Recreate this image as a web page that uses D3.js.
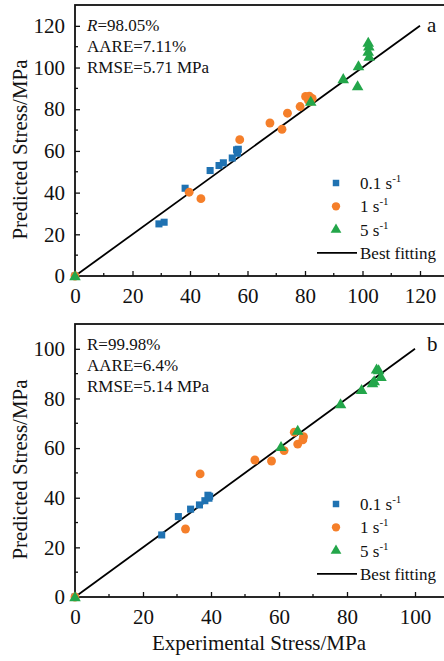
<!DOCTYPE html>
<html>
<head>
<meta charset="utf-8">
<script src="https://cdn.jsdelivr.net/npm/d3@7"></script>
<style>
  body { margin: 0; background: #fff; }
  text { font-family: "Liberation Serif", "Times New Roman", serif; fill: #111; }
</style>
</head>
<body>
<div id="chart"></div>
<script>
// panel a data: [experimental, predicted]
var aLow = [[29.2,25.0],[31.0,25.8],[38.3,42.1],[47.0,50.6],[50.1,53.0],[51.6,54.3],[54.7,56.6],[56.2,60.5],[56.5,58.9],[56.8,60.8],[0,0]];
var aMid = [[39.7,40.2],[43.8,37.1],[57.3,65.4],[67.8,73.4],[72.0,70.4],[73.9,78.1],[78.3,81.3],[80.2,86.1],[81.5,86.3],[82.5,85.2],[81.8,83.6],[81.2,84.2],[0,0]];
var aHigh = [[82.0,83.7],[93.3,94.6],[98.6,100.8],[98.3,91.2],[102.0,112.0],[102.2,110.2],[102.0,107.7],[102.3,105.3],[0,0]];

// panel b data
var bLow = [[25.5,25.0],[30.4,32.4],[34.0,35.4],[36.6,37.1],[38.2,38.8],[39.1,41.0],[39.6,40.6],[39.4,39.8],[0,0]];
var bMid = [[32.5,27.4],[36.8,49.6],[52.9,55.2],[57.8,54.8],[61.5,59.0],[64.5,66.4],[65.5,61.6],[67.2,64.6],[67.0,63.3],[0,0]];
var bHigh = [[60.6,60.6],[65.5,67.1],[78.1,77.8],[84.3,83.5],[88.0,87.1],[87.5,86.3],[88.7,91.8],[89.3,91.5],[90.0,88.8],[0,0]];

var seriesNames = ['0.1 s', '1 s', '5 s'];
var colors = ['#1f72b2', '#f57f2a', '#23a64a'];

var panels = [
  { label: 'a', max: 130, ticks: [0,20,40,60,80,100,120], fit: 120, top: 5, bottom: 276,
    stats: ['R', '=98.05%', 'AARE=7.11%', 'RMSE=5.71 MPa'], series: [aLow, aMid, aHigh], xTitle: false },
  { label: 'b', max: 110, ticks: [0,20,40,60,80,100], fit: 100, top: 324, bottom: 597,
    stats: ['R', '=99.98%', 'AARE=6.4%', 'RMSE=5.14 MPa'], series: [bLow, bMid, bHigh], xTitle: true }
];

var W = 444, H = 661, left = 75;

var svg = d3.select('#chart').append('svg')
  .attr('width', W)
  .attr('height', H);

panels.forEach(function(p, pi) {
  var x = d3.scaleLinear().domain([0, p.max]).range([left, left + (p.max / p.fit) * (pi === 0 ? 345 : 340)]);
  var y = d3.scaleLinear().domain([0, p.max]).range([p.bottom, p.top]);
  var g = svg.append('g');

  // minor ticks
  var minor = d3.range(10, p.max, 20);
  g.selectAll('.mx').data(minor).enter().append('line')
    .attr('x1', function(d) { return x(d); }).attr('x2', function(d) { return x(d); })
    .attr('y1', p.bottom).attr('y2', p.bottom - 3)
    .attr('stroke', '#111').attr('stroke-width', 1.3);
  g.selectAll('.my').data(minor).enter().append('line')
    .attr('y1', function(d) { return y(d); }).attr('y2', function(d) { return y(d); })
    .attr('x1', left).attr('x2', left + 3)
    .attr('stroke', '#111').attr('stroke-width', 1.3);

  // axes (ticks inside)
  var xAxis = g.append('g').attr('transform', 'translate(0,' + p.bottom + ')')
    .call(d3.axisBottom(x).tickValues(p.ticks).tickSize(-5).tickPadding(12));
  var yAxis = g.append('g').attr('transform', 'translate(' + left + ',0)')
    .call(d3.axisLeft(y).tickValues(p.ticks).tickSize(-5).tickPadding(10));
  [xAxis, yAxis].forEach(function(a) {
    a.select('.domain').remove();
    a.selectAll('line').attr('stroke', '#111').attr('stroke-width', 1.3);
    a.selectAll('text').attr('font-size', 21).attr('font-family', '"Liberation Serif", serif').attr('fill', '#111');
  });

  // frame
  g.append('rect')
    .attr('x', left).attr('y', p.top)
    .attr('width', x(p.max) - left).attr('height', p.bottom - p.top)
    .attr('fill', 'none').attr('stroke', '#111').attr('stroke-width', 1.8);

  // best fitting line
  g.append('line')
    .attr('x1', x(0)).attr('y1', y(0)).attr('x2', x(p.fit)).attr('y2', y(p.fit))
    .attr('stroke', '#000').attr('stroke-width', 1.8);

  // points
  var symbols = [d3.symbolSquare, d3.symbolCircle, d3.symbolTriangle];
  var sizes = [50, 62, 58];
  p.series.forEach(function(data, si) {
    g.selectAll('.s' + si).data(data).enter().append('path')
      .attr('d', d3.symbol().type(symbols[si]).size(sizes[si]))
      .attr('transform', function(d) { return 'translate(' + x(d[0]) + ',' + (y(d[1]) + (si === 2 ? 1 : 0)) + ')'; })
      .attr('fill', colors[si]);
  });

  // stats text
  var st = g.append('g').attr('font-size', 17);
  var t1 = st.append('text').attr('x', left + 12).attr('y', p.top + 26);
  if (pi === 0) {
    t1.append('tspan').attr('font-style', 'italic').text(p.stats[0]);
  } else {
    t1.append('tspan').text(p.stats[0]);
  }
  t1.append('tspan').text(p.stats[1]);
  st.append('text').attr('x', left + 12).attr('y', p.top + 47).text(p.stats[2]);
  st.append('text').attr('x', left + 12).attr('y', p.top + 68).text(p.stats[3]);

  // panel label
  g.append('text').attr('x', 427).attr('y', p.top + 27).attr('font-size', 21).text(p.label);

  // legend
  var ly0 = p.bottom - 93;
  var leg = g.append('g');
  seriesNames.forEach(function(name, si) {
    var ly = ly0 + si * 23.3;
    leg.append('path')
      .attr('d', d3.symbol().type(symbols[si]).size(sizes[si] - 8))
      .attr('transform', 'translate(336,' + ly + ')')
      .attr('fill', colors[si]);
    var t = leg.append('text').attr('x', 360).attr('y', ly + 6).attr('font-size', 17);
    t.append('tspan').text(name);
    t.append('tspan').attr('font-size', 11).attr('dy', -7).text('-1');
  });
  var lly = ly0 + 3 * 23.3;
  leg.append('line').attr('x1', 317).attr('x2', 357).attr('y1', lly).attr('y2', lly)
    .attr('stroke', '#000').attr('stroke-width', 1.8);
  leg.append('text').attr('x', 360).attr('y', lly + 6).attr('font-size', 17).text('Best fitting');

  // y title
  var cy = (p.top + p.bottom) / 2 + 9;
  g.append('text')
    .attr('transform', 'translate(27,' + cy + ') rotate(-90)')
    .attr('text-anchor', 'middle').attr('font-size', 21)
    .text('Predicted Stress/MPa');

  if (p.xTitle) {
    g.append('text').attr('x', 259).attr('y', 650).attr('text-anchor', 'middle')
      .attr('font-size', 21).text('Experimental Stress/MPa');
  }
});
</script>
</body>
</html>
